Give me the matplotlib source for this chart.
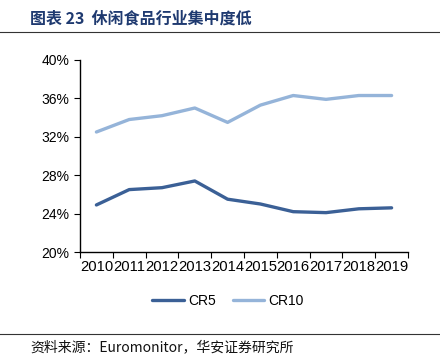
import matplotlib
matplotlib.use('Agg')
import matplotlib.pyplot as plt
from matplotlib.lines import Line2D
from matplotlib.ticker import FuncFormatter
import numpy as np

plt.rcParams['font.family'] = ['Liberation Sans', 'Noto Sans CJK SC', 'DejaVu Sans']

years = ['2010', '2011', '2012', '2013', '2014', '2015', '2016', '2017', '2018', '2019']
cr5 = [24.9, 26.5, 26.7, 27.4, 25.5, 25.0, 24.2, 24.1, 24.5, 24.6]
cr10 = [32.5, 33.8, 34.2, 35.0, 33.5, 35.3, 36.3, 35.9, 36.3, 36.3]
title = '图表 23  休闲食品行业集中度低'
source = '资料来源：Euromonitor，华安证券研究所'

fig = plt.figure(figsize=(4.4, 3.58), dpi=100)
ax = fig.add_axes([80 / 440, 1 - 252 / 358, 328 / 440, 192 / 358])

x = np.arange(len(years))
ax.plot(x, cr5, color='#3B6096', lw=2.4, solid_capstyle='round', label='CR5')
ax.plot(x, cr10, color='#95B4D9', lw=2.4, solid_capstyle='round', label='CR10')

ax.set_xlim(-0.5, len(years) - 0.5)
ax.set_ylim(20, 40)
ax.set_yticks(np.arange(20, 41, 4))
ax.yaxis.set_major_formatter(FuncFormatter(lambda v, p: f'{v:.0f}%'))
ax.set_xticks(np.arange(-0.5, len(years), 1.0))
ax.set_xticklabels([])
ax.set_xticks(x, minor=True)
ax.set_xticklabels(years, minor=True)
ax.tick_params(axis='x', which='minor', length=0, labelsize=10.6, pad=6)
ax.tick_params(axis='x', which='major', length=4, direction='out')
ax.tick_params(axis='y', length=4, direction='out', labelsize=10)
for s in ['top', 'right']:
    ax.spines[s].set_visible(False)
for s in ['left', 'bottom']:
    ax.spines[s].set_linewidth(1.0)

fig.legend(loc='center', bbox_to_anchor=(228 / 440, 1 - 301 / 358), ncol=2, frameon=False,
           fontsize=10, handlelength=2.3, handletextpad=0.3, columnspacing=1.2)

# header and footer
fig.text(30 / 440, 1 - 18 / 358, title, fontsize=11.5, fontweight='bold', color='#1F3A70',
         va='center', ha='left', family=['Noto Sans CJK SC', 'DejaVu Sans'])
fig.add_artist(Line2D([0, 1], [1 - 32 / 358] * 2, color='#333333', lw=0.8))
fig.add_artist(Line2D([0, 1], [1 - 334 / 358] * 2, color='#333333', lw=0.8))
fig.text(30 / 440, 1 - 347 / 358, source, fontsize=10, color='#111111',
         va='center', ha='left', family=['Noto Sans CJK SC', 'DejaVu Sans'])

fig.savefig('out.png', dpi=100)
